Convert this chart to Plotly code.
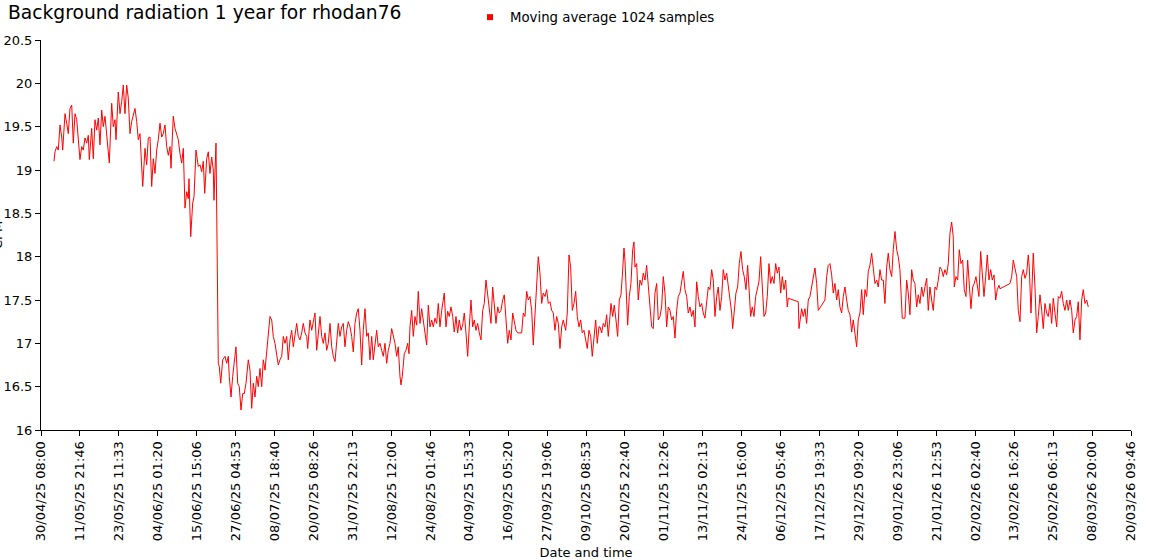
import pandas as pd
import plotly.graph_objects as go

# elapsed time since 30/04/25 08:00 (days) and moving-average CPM
elapsed_days = [
 3.86,4.16,4.67,5.14,5.65,6.15,6.45,7.14,7.64,8.12,8.62,9.13,9.60,10.11,10.61,11.09,11.59,12.10,12.58,13.08,
 13.59,14.06,14.36,15.07,15.55,16.05,16.56,17.04,17.54,18.05,18.52,19.03,19.53,20.31,21.02,21.49,22.00,22.30,22.98,23.49,
 23.99,24.47,24.97,25.48,25.95,26.46,26.96,27.44,27.95,28.45,28.93,29.43,30.24,30.92,31.42,31.90,32.41,32.91,33.39,33.89,
 34.40,34.87,35.38,35.88,36.36,36.87,37.37,37.85,38.35,38.65,39.33,39.84,40.34,40.82,41.32,41.83,42.31,42.81,43.32,43.79,
 44.00,44.51,45.10,45.49,46.08,46.77,47.27,47.78,48.25,48.67,49.26,49.74,50.24,50.75,51.23,51.43,52.03,52.71,53.01,53.43,
 54.02,54.70,55.21,55.69,55.98,56.49,56.99,57.47,57.97,58.48,58.95,59.46,59.97,60.44,60.95,61.63,62.14,62.64,63.12,63.62,
 64.13,64.60,65.11,65.62,66.09,66.60,67.10,67.58,68.08,68.59,69.06,69.57,70.07,70.55,71.05,71.56,72.04,72.54,73.05,73.52,
 74.03,74.53,75.01,75.51,76.02,76.50,77.00,77.51,77.98,78.49,79.00,79.29,79.97,80.48,80.96,81.46,81.97,82.44,82.95,83.45,
 83.93,84.43,84.94,85.41,85.92,86.43,86.90,87.41,87.91,88.39,88.89,89.40,89.87,90.38,90.88,91.36,91.87,92.37,92.85,93.35,
 93.86,94.33,94.84,95.34,95.82,96.33,96.83,97.31,97.81,98.32,98.79,99.30,99.80,100.28,100.78,101.29,101.77,102.27,102.78,103.25,
 103.76,104.26,104.74,105.24,105.75,106.22,106.73,107.03,107.41,108.01,108.51,109.02,109.41,109.70,110.21,110.69,111.19,111.70,112.17,112.68,
 113.18,113.66,114.16,114.67,115.15,115.65,116.16,116.63,117.14,117.64,118.12,118.62,119.13,119.90,120.41,120.91,121.39,121.89,122.40,122.87,
 123.38,123.88,124.36,124.87,125.37,125.85,126.35,126.86,127.33,127.84,128.34,128.82,129.33,129.83,130.31,130.81,131.32,131.79,132.30,132.80,
 133.28,133.79,134.29,134.77,135.27,135.78,136.25,136.76,137.26,137.74,138.24,138.75,139.23,139.73,140.24,140.71,141.22,141.72,142.91,143.39,
 143.89,144.40,144.87,145.38,145.89,146.36,146.87,147.37,147.85,148.35,148.86,149.33,149.84,150.34,150.82,151.33,151.83,152.31,152.81,153.32,
 153.80,154.30,154.81,155.28,156.00,156.47,156.98,157.48,157.96,158.46,158.97,159.44,159.95,160.45,160.93,161.43,161.94,162.42,162.92,163.43,
 163.90,164.41,164.91,165.39,165.89,166.19,166.70,167.17,167.68,168.18,168.66,169.16,169.46,169.97,170.44,170.95,171.45,171.93,172.43,172.82,
 173.33,173.62,174.13,174.42,174.90,175.40,175.91,176.30,176.59,177.10,177.58,178.08,178.59,179.06,179.57,180.07,180.55,181.06,181.56,182.04,
 182.54,183.05,183.52,184.03,184.53,185.01,185.52,186.02,186.50,187.00,187.51,187.98,188.49,188.99,189.47,189.97,190.48,190.96,191.46,191.97,
 192.44,192.95,193.45,193.93,194.43,194.94,195.42,195.92,196.43,196.90,197.41,197.91,198.39,198.89,199.40,199.88,200.38,200.89,201.36,201.87,
 202.37,202.85,203.35,203.86,204.34,204.84,205.35,205.64,206.12,206.62,207.13,207.60,208.11,208.61,209.09,209.60,210.10,210.58,210.99,211.47,
 211.98,212.48,212.96,213.46,213.97,214.45,214.95,215.46,215.93,216.44,216.95,217.42,217.93,218.43,218.91,219.41,219.92,220.40,220.90,221.41,
 221.88,222.18,225.15,225.36,225.74,226.16,226.63,227.14,227.64,228.12,228.62,229.13,229.61,230.11,230.62,231.09,232.10,233.08,233.59,234.06,
 234.57,235.08,235.55,236.06,236.56,237.04,237.54,238.05,238.53,239.03,239.54,240.01,240.52,241.02,241.50,242.00,242.51,242.99,243.49,244.00,
 244.47,244.98,245.48,245.96,246.46,246.97,247.45,247.95,248.46,248.93,249.44,249.94,250.42,250.92,251.43,251.91,252.41,252.92,253.39,253.90,
 254.40,254.88,255.38,255.89,256.07,256.87,257.37,257.85,258.35,258.86,259.34,259.84,260.35,260.82,261.33,261.83,262.31,262.81,263.32,263.80,
 264.30,264.81,265.28,265.79,266.29,266.77,267.27,267.78,268.25,268.76,269.27,269.74,270.25,270.75,271.23,271.53,272.03,272.54,273.02,273.52,
 274.03,274.50,275.01,275.51,275.99,276.49,277.00,277.48,277.98,278.49,278.87,279.38,279.86,280.36,280.87,281.35,281.85,282.36,282.83,283.34,
 283.84,284.32,284.82,285.12,288.09,288.60,289.07,289.58,290.09,290.56,291.07,291.57,292.05,292.55,293.06,293.53,293.83,294.34,295.02,295.52,
 296.03,296.51,297.01,297.52,297.99,298.50,299.00,299.48,299.98,300.49,300.97,301.47,301.98,302.45,302.96,303.46,303.94,304.44,304.95,305.43,
 305.93,306.44,306.91,307.42,307.92,308.40,308.90,309.41,309.88,310.39,310.89,311.37,
]

cpm = [
 19.10,19.21,19.27,19.23,19.52,19.38,19.23,19.65,19.54,19.42,19.71,19.75,19.31,19.65,19.58,19.38,19.12,19.27,19.23,19.37,
 19.31,19.40,19.12,19.48,19.13,19.58,19.46,19.60,19.29,19.69,19.50,19.62,19.44,19.08,19.77,19.50,19.58,19.35,19.90,19.65,
 19.79,19.98,19.65,19.98,19.83,19.42,19.56,19.63,19.71,19.56,19.35,19.42,18.81,19.25,19.06,19.37,19.38,18.81,19.13,18.96,
 19.23,19.35,19.54,19.38,19.42,19.52,19.27,19.17,19.27,19.02,19.62,19.48,19.42,19.35,19.19,19.08,19.25,18.56,18.75,18.67,
 18.90,18.23,18.62,18.69,19.23,19.04,19.06,18.98,19.10,18.73,19.13,19.21,18.96,19.15,19.00,18.65,19.31,16.77,16.73,16.54,
 16.81,16.85,16.77,16.85,16.62,16.38,16.62,16.81,16.96,16.54,16.50,16.23,16.42,16.42,16.54,16.81,16.69,16.25,16.54,16.38,
 16.62,16.50,16.71,16.50,16.81,16.69,16.92,17.04,17.31,17.27,17.08,17.00,16.85,16.75,16.81,16.85,17.08,17.00,17.08,16.81,
 17.04,17.15,16.96,17.08,17.23,17.08,17.04,17.12,17.23,17.12,17.08,16.94,17.27,17.15,17.27,17.35,16.92,17.15,17.31,17.08,
 17.00,17.12,16.92,17.00,17.23,16.96,16.85,16.79,17.00,17.23,17.08,17.19,17.23,16.96,17.15,17.25,17.19,17.08,16.90,17.23,
 17.35,17.40,17.15,16.75,17.15,17.40,17.08,17.12,16.81,17.08,16.81,17.00,17.15,16.96,17.00,16.92,16.85,17.00,16.77,16.92,
 17.00,17.17,17.08,17.00,16.85,16.96,16.62,16.52,16.62,16.88,16.92,17.00,16.88,17.19,17.38,17.08,17.31,17.21,17.60,17.23,
 17.40,17.27,17.15,16.98,17.44,17.19,17.27,17.19,17.29,17.23,17.46,17.19,17.38,17.58,17.19,17.37,17.31,17.42,17.31,17.13,
 17.31,17.12,17.27,17.15,17.21,17.35,17.12,16.85,17.19,17.50,17.19,17.27,17.15,17.23,17.12,17.04,17.38,17.46,17.73,17.58,
 17.38,17.23,17.65,17.46,17.23,17.42,17.35,17.38,17.50,17.56,17.31,17.00,17.15,17.04,17.35,17.27,17.15,17.12,17.12,17.35,
 17.31,17.60,17.50,17.54,17.38,16.98,17.38,17.60,18.00,17.81,17.46,17.58,17.54,17.62,17.46,17.48,17.38,17.35,17.15,17.31,
 17.23,16.94,17.19,17.27,17.15,17.35,18.02,17.88,17.38,17.46,17.60,17.31,17.19,17.27,17.12,17.15,17.04,16.94,17.15,17.08,
 16.85,17.08,17.27,17.00,17.19,17.19,17.12,17.23,17.19,17.33,17.08,17.31,17.46,17.31,17.44,17.27,17.08,17.50,17.56,17.77,
 18.10,17.96,17.38,17.21,17.54,17.69,18.08,18.17,17.88,17.92,17.50,17.73,17.67,17.81,17.73,17.90,17.67,17.46,17.19,17.17,
 17.58,17.69,17.27,17.31,17.42,17.77,17.58,17.19,17.42,17.38,17.27,17.31,17.06,17.38,17.54,17.58,17.69,17.83,17.62,17.54,
 17.35,17.42,17.31,17.38,17.19,17.71,17.54,17.42,17.46,17.35,17.29,17.52,17.65,17.62,17.85,17.73,17.31,17.54,17.65,17.38,
 17.54,17.85,17.73,17.81,17.65,17.50,17.35,17.17,17.42,17.58,17.65,17.92,18.06,17.85,17.77,17.62,17.90,17.54,17.31,17.42,
 17.31,17.54,17.62,17.71,18.00,17.65,17.31,17.35,17.54,17.92,17.69,17.77,17.69,17.92,17.81,17.88,17.58,17.77,17.62,17.73,
 17.42,17.52,17.48,17.17,17.31,17.40,17.31,17.40,17.23,17.50,17.54,17.65,17.73,17.87,17.69,17.38,17.44,17.50,17.77,17.90,
 17.92,17.79,17.58,17.69,17.50,17.62,17.42,17.35,17.54,17.65,17.50,17.38,17.33,17.13,17.27,17.13,16.96,17.27,17.35,17.62,
 17.33,17.62,17.54,17.83,17.90,18.04,17.88,17.69,17.73,17.65,17.85,17.73,17.73,17.46,17.88,18.04,17.85,17.77,18.08,18.29,
 18.08,18.00,17.85,17.50,17.29,17.29,17.73,17.58,17.33,17.85,17.73,17.69,17.42,17.56,17.46,17.65,17.54,17.65,17.75,17.38,
 17.65,17.50,17.38,17.65,17.62,17.73,17.88,17.85,17.77,17.85,17.79,17.92,18.27,18.40,18.23,17.65,17.77,17.73,18.08,17.92,
 17.96,17.62,17.54,17.96,17.62,17.40,17.65,17.69,17.77,17.65,17.54,18.06,17.81,17.54,17.77,18.02,17.73,17.85,17.73,17.79,
 17.50,17.62,17.67,17.63,17.69,17.77,17.96,17.85,17.77,17.38,17.25,17.77,17.85,17.75,17.81,18.02,17.88,17.35,18.04,17.65,
 17.12,17.31,17.56,17.38,17.17,17.46,17.35,17.31,17.46,17.23,17.52,17.35,17.19,17.54,17.52,17.60,17.46,17.38,17.50,17.38,
 17.50,17.38,17.12,17.27,17.31,17.48,17.04,17.50,17.62,17.46,17.50,17.42,
]

start_time = "2025-04-30 08:00:00"
end_time = "2026-03-20 09:46:40"
tick_step_ms = 1000000000  # 11 d 13 h 46 min 40 s
y_range = [16, 20.5]
y_ticks = [16, 16.5, 17, 17.5, 18, 18.5, 19, 19.5, 20, 20.5]
y_tick_text = ["16", "16.5", "17", "17.5", "18", "18.5", "19", "19.5", "20", "20.5"]

t0 = pd.Timestamp(start_time)
times = [t0 + pd.Timedelta(days=d) for d in elapsed_days]

FONT = "DejaVu Sans, Verdana, sans-serif"

fig = go.Figure()
fig.add_trace(go.Scatter(
    x=times, y=cpm, mode="lines",
    line=dict(color="#ff0000", width=1),
    showlegend=False, hoverinfo="x+y",
))
fig.add_trace(go.Scatter(
    x=[None], y=[None], mode="markers",
    marker=dict(symbol="square", size=6, color="#ff0000"),
    name="Moving average 1024 samples", showlegend=True,
))

fig.update_layout(
    width=1150, height=560,
    paper_bgcolor="white", plot_bgcolor="white",
    margin=dict(l=41, r=19, t=40, b=130, pad=0, autoexpand=False),
    font=dict(family=FONT, size=13, color="black"),
    title=dict(text="Background radiation 1 year for rhodan76",
               font=dict(family=FONT, size=18.7, color="black"),
               x=8 / 1150, xanchor="left", xref="container",
               y=1 - 6 / 560, yanchor="top", yref="container"),
    legend=dict(orientation="h", x=470 / 1150, xref="container", xanchor="left",
                y=1 - 2 / 560, yref="container", yanchor="top",
                font=dict(family=FONT, size=13.3, color="black"),
                bgcolor="rgba(0,0,0,0)", itemwidth=30),
    xaxis=dict(
        type="date", automargin=False,
        range=[start_time, end_time],
        tickmode="linear", tick0=start_time, dtick=tick_step_ms,
        tickformat="%d/%m/%y %H:%M", tickangle=-90,
        showline=True, linecolor="black", linewidth=1,
        ticks="outside", ticklen=5, tickcolor="black",
        showgrid=False, zeroline=False,
        tickfont=dict(family=FONT, size=13, color="black"),
        title=dict(text="Date and time", standoff=7,
                   font=dict(family=FONT, size=13, color="black")),
    ),
    yaxis=dict(
        automargin=False,
        range=y_range,
        tickmode="array", tickvals=y_ticks, ticktext=y_tick_text,
        showline=True, linecolor="black", linewidth=1,
        ticks="outside", ticklen=5, tickcolor="black",
        showgrid=False, zeroline=False,
        tickfont=dict(family=FONT, size=13, color="black"),
    ),
    annotations=[dict(text="CPM", textangle=-90, xref="paper", yref="paper",
                      x=0, y=0.5, xanchor="center", yanchor="middle",
                      xshift=-44, showarrow=False,
                      font=dict(family=FONT, size=13, color="black"))],
)

fig.write_html(
    "out.html",
    config={"displayModeBar": False},
    post_script="document.body.style.margin='0';document.body.style.padding='0';",
)
